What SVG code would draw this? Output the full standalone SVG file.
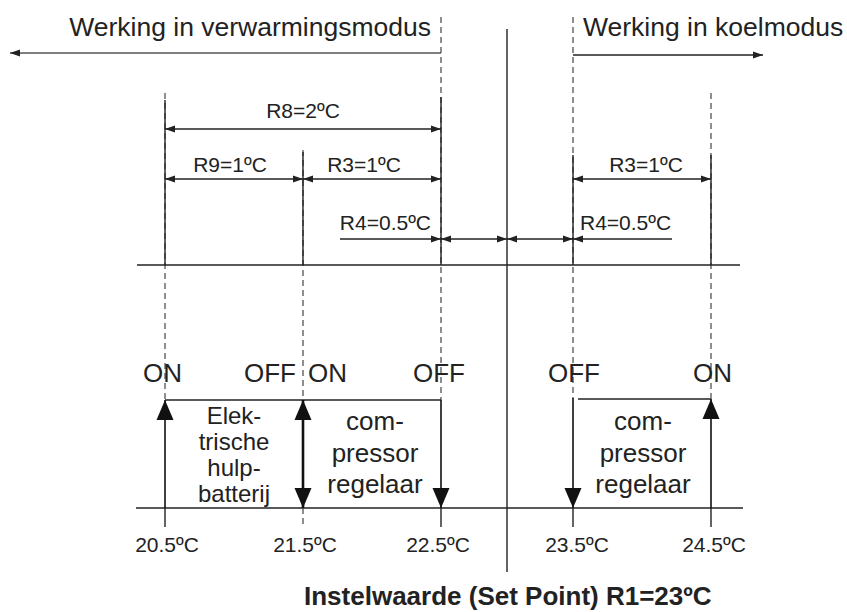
<svg xmlns="http://www.w3.org/2000/svg" width="847" height="612" viewBox="0 0 847 612">
<defs>
<marker id="dim" markerUnits="userSpaceOnUse" markerWidth="10" markerHeight="8" refX="10" refY="4" orient="auto-start-reverse"><path d="M0,0.5 L10,4 L0,7.5 z" fill="#222"/></marker>
<marker id="big" markerUnits="userSpaceOnUse" markerWidth="20" markerHeight="18" refX="20" refY="9" orient="auto-start-reverse"><path d="M0,0.5 L20,9 L0,17.5 z" fill="#111"/></marker>
<style>
.t{font-family:"Liberation Sans",Arial,sans-serif;fill:#222}
.title{font-size:26.5px}
.lab{font-size:21px}
.sw{font-size:26px;text-anchor:middle}
.box{text-anchor:middle}
.ln{stroke:#222;stroke-width:1.4;fill:none}
.dash{stroke:#444;stroke-width:1.2;stroke-dasharray:6,4;fill:none}
.dimln{stroke:#222;stroke-width:1.3;fill:none;marker-start:url(#dim);marker-end:url(#dim)}
.one{stroke:#222;stroke-width:1.3;fill:none;marker-end:url(#dim)}
.sarr{stroke:#111;stroke-width:1.6;fill:none;marker-end:url(#big)}
</style>
</defs>
<rect width="847" height="612" fill="#fff"/>

<g id="guides">
<line class="dash" x1="165" y1="93" x2="165" y2="400"/>
<line class="dash" x1="303" y1="150" x2="303" y2="400"/>
<line class="dash" x1="441" y1="17" x2="441" y2="400"/>
<line class="dash" x1="573" y1="17" x2="573" y2="398"/>
<line class="dash" x1="711" y1="93" x2="711" y2="399"/>
<line class="ln" x1="165" y1="100" x2="165" y2="265"/>
<line class="ln" x1="303" y1="152" x2="303" y2="265"/>
<line class="ln" x1="441" y1="97" x2="441" y2="265"/>
<line class="ln" x1="573" y1="155" x2="573" y2="265"/>
<line class="ln" x1="711" y1="155" x2="711" y2="265"/>
<line class="ln" x1="507" y1="29" x2="507" y2="572"/>
<line class="ln" x1="137" y1="265" x2="740" y2="265"/>
<line class="ln" x1="136" y1="508" x2="743" y2="508"/>
<line class="ln" x1="165" y1="508" x2="165" y2="527"/>
<line class="dash" x1="303" y1="508" x2="303" y2="527"/>
<line class="ln" x1="441" y1="508" x2="441" y2="527"/>
<line class="ln" x1="573" y1="508" x2="573" y2="527"/>
<line class="ln" x1="711" y1="508" x2="711" y2="527"/>
</g>

<g id="connectors">
<line class="one" x1="441" y1="53" x2="10" y2="53" style="stroke:#555"/>
<line class="one" x1="573" y1="55" x2="763" y2="55"/>
<line class="dimln" x1="165" y1="129" x2="441" y2="129"/>
<line class="dimln" x1="165" y1="179" x2="303" y2="179"/>
<line class="dimln" x1="303" y1="179" x2="441" y2="179"/>
<line class="dimln" x1="573" y1="179" x2="711" y2="179"/>
<line class="one" x1="340" y1="239" x2="441" y2="239"/>
<line class="dimln" x1="441" y1="239" x2="507" y2="239"/>
<line class="dimln" x1="507" y1="239" x2="573" y2="239"/>
<line class="one" x1="672" y1="239" x2="573" y2="239"/>
<line class="ln" x1="165" y1="400" x2="441" y2="400"/>
<line class="ln" x1="578" y1="399" x2="711" y2="399"/>
<line class="sarr" x1="165" y1="508" x2="165" y2="400"/>
<line class="sarr" x1="303" y1="454" x2="303" y2="400" style="stroke-width:2.6"/>
<line class="sarr" x1="303" y1="454" x2="303" y2="508" style="stroke-width:2.6"/>
<line class="sarr" x1="441" y1="400" x2="441" y2="508"/>
<line class="sarr" x1="573" y1="398" x2="573" y2="508"/>
<line class="sarr" x1="711" y1="508" x2="711" y2="399"/>
</g>

<g id="mode-heating"><text class="t title" x="431" y="36" text-anchor="end">Werking in verwarmingsmodus</text></g>
<g id="mode-cooling"><text class="t title" x="583" y="36">Werking in koelmodus</text></g>

<g id="dim-labels">
<text class="t lab" x="303" y="118" text-anchor="middle">R8=2ºC</text>
<text class="t lab" x="230" y="172" text-anchor="middle">R9=1ºC</text>
<text class="t lab" x="364" y="172" text-anchor="middle">R3=1ºC</text>
<text class="t lab" x="646" y="172" text-anchor="middle">R3=1ºC</text>
<text class="t lab" x="431" y="230" text-anchor="end">R4=0.5ºC</text>
<text class="t lab" x="580" y="230">R4=0.5ºC</text>
</g>

<g id="switch-labels">
<text class="t sw" x="162.5" y="382">ON</text>
<text class="t sw" x="270" y="382">OFF</text>
<text class="t sw" x="327.5" y="382">ON</text>
<text class="t sw" x="439" y="382">OFF</text>
<text class="t sw" x="574" y="382">OFF</text>
<text class="t sw" x="712.5" y="382">ON</text>
</g>

<g id="node-hulpbatterij">
<text class="t box" style="font-size:24px" x="234" y="424">Elek-</text>
<text class="t box" style="font-size:24px" x="234" y="450">trische</text>
<text class="t box" style="font-size:24px" x="234" y="476">hulp-</text>
<text class="t box" style="font-size:24px" x="234" y="502">batterij</text>
</g>
<g id="node-compressor-heat">
<text class="t box" style="font-size:26px" x="375" y="430">com-</text>
<text class="t box" style="font-size:26px" x="375" y="462">pressor</text>
<text class="t box" style="font-size:26px" x="375" y="493">regelaar</text>
</g>
<g id="node-compressor-cool">
<text class="t box" style="font-size:26px" x="643" y="430">com-</text>
<text class="t box" style="font-size:26px" x="643" y="462">pressor</text>
<text class="t box" style="font-size:26px" x="643" y="493">regelaar</text>
</g>

<g id="temps">
<text class="t lab" x="167" y="552" text-anchor="middle">20.5ºC</text>
<text class="t lab" x="305" y="552" text-anchor="middle">21.5ºC</text>
<text class="t lab" x="438" y="552" text-anchor="middle">22.5ºC</text>
<text class="t lab" x="577" y="552" text-anchor="middle">23.5ºC</text>
<text class="t lab" x="714" y="552" text-anchor="middle">24.5ºC</text>
</g>

<g id="setpoint"><text class="t" x="304" y="605" style="font-size:26px;font-weight:bold">Instelwaarde (Set Point) R1=23ºC</text></g>
</svg>
